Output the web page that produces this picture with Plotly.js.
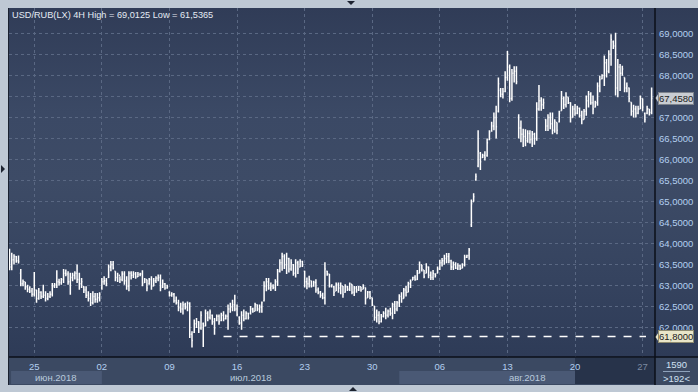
<!DOCTYPE html>
<html><head><meta charset="utf-8">
<script src="https://cdn.plot.ly/plotly-3.0.1.min.js"></script>
<style>
html,body{margin:0;padding:0;background:#bec8d4;width:698px;height:392px;overflow:hidden;}
#bgPlot{position:absolute;left:8px;top:8px;width:690px;height:349px;
 background:linear-gradient(to bottom,#303c57 0%,#3b4965 30%,#3d4b66 50%,#35435f 78%,#2e3b57 100%);}
#bgBand{position:absolute;left:8px;top:357px;width:690px;height:28px;background:#3b4962;}
#chart{position:absolute;left:0;top:0;width:698px;height:392px;}
</style></head>
<body>
<div id="bgPlot"></div><div id="bgBand"></div>
<div id="chart"></div>
<script>
// ---- data (USD/RUB 4H bars) ----
const openP = [
63.80,63.45,63.62,63.70,63.60,63.30,63.05,63.10,62.98,62.92,
62.88,62.80,62.90,62.70,62.85,62.75,62.78,62.70,62.75,62.80,
63.00,63.02,63.10,63.08,63.15,63.30,63.28,63.10,63.20,63.25,
63.30,63.15,63.05,62.98,62.90,62.78,62.70,62.60,62.75,62.68,
62.72,62.95,63.10,63.12,63.20,63.45,63.50,63.35,63.20,63.25,
63.15,63.28,63.12,63.00,63.30,63.25,63.28,63.22,63.27,63.28,
63.08,63.15,63.05,63.15,63.00,63.12,63.18,63.20,62.98,63.05,
62.95,62.85,62.78,62.80,62.65,62.60,62.48,62.45,62.55,62.50,
62.58,61.85,61.90,62.10,62.15,62.00,62.10,62.05,62.35,62.25,
62.30,62.15,62.18,62.28,62.18,62.30,62.22,62.28,62.45,62.50,
62.55,62.45,62.25,62.12,62.30,62.22,62.35,62.35,62.45,62.40,
62.55,62.45,62.50,62.65,63.00,63.10,62.95,63.00,62.96,63.10,
63.35,63.55,63.70,63.50,63.65,63.40,63.50,63.30,63.55,63.45,
63.58,63.35,63.10,63.05,63.12,63.00,63.08,62.90,62.85,62.78,
62.72,63.35,63.28,63.00,62.98,62.88,63.02,62.95,63.00,62.85,
62.98,62.92,63.04,62.85,62.95,62.90,62.98,62.92,62.96,62.72,
62.85,62.72,62.52,62.25,62.30,62.15,62.28,62.35,62.30,62.40,
62.35,62.55,62.45,62.60,62.75,62.70,62.90,62.85,63.05,63.14,
63.20,63.15,63.30,63.50,63.38,63.30,63.45,63.25,63.20,63.28,
63.30,63.40,63.55,63.60,63.65,63.70,63.60,63.45,63.50,63.42,
63.48,63.42,63.50,63.68,63.72,64.45,65.00,65.52,65.85,66.15,
66.05,66.10,66.10,66.48,66.68,66.80,67.00,67.15,67.65,67.55,
67.62,67.95,68.20,67.45,68.05,68.10,67.00,66.75,66.60,66.55,
66.45,66.62,66.48,66.60,66.50,67.20,67.40,67.30,66.95,66.80,
67.00,66.85,66.70,66.88,66.90,67.16,67.45,67.30,67.48,67.35,
67.00,67.20,67.10,67.22,67.05,66.95,67.15,67.40,67.55,67.35,
67.25,67.35,67.75,67.92,68.00,68.30,68.10,68.50,68.80,68.70,
67.70,68.20,68.05,67.95,67.70,67.70,67.36,67.15,67.20,67.10,
67.20,67.45,67.10,67.10,67.20,67.12];
const highP = [
63.88,63.79,63.75,63.71,63.72,63.40,63.15,63.09,63.03,62.99,
62.95,63.33,62.91,62.95,62.87,63.03,62.87,62.83,62.87,63.07,
63.07,63.37,63.17,63.19,63.40,63.39,63.35,63.31,63.31,63.35,
63.51,63.31,63.19,62.99,62.99,62.87,62.83,62.87,62.83,62.83,
62.85,63.19,63.23,63.19,63.51,63.59,63.59,63.35,63.31,63.23,
63.35,63.35,63.23,63.35,63.35,63.35,63.33,63.33,63.31,63.37,
63.19,63.15,63.19,63.23,63.19,63.23,63.27,63.27,63.15,63.07,
63.03,62.87,62.85,62.83,62.75,62.67,62.60,62.63,62.60,62.63,
62.61,61.92,62.20,62.24,62.16,62.40,62.13,62.44,62.40,62.44,
62.32,62.24,62.32,62.32,62.36,62.40,62.32,62.56,62.60,62.67,
62.79,62.56,62.28,62.40,62.44,62.40,62.36,62.52,62.48,62.60,
62.56,62.56,62.63,63.11,63.19,63.19,63.08,63.04,63.16,63.40,
63.63,63.79,63.75,63.79,63.67,63.63,63.52,63.63,63.60,63.63,
63.60,63.36,63.20,63.24,63.12,63.12,63.16,62.96,62.88,62.84,
63.56,63.36,63.28,63.04,63.00,63.08,63.08,63.08,63.00,63.04,
63.00,63.08,63.04,63.00,63.00,63.00,62.98,63.04,62.96,62.88,
62.88,62.72,62.52,62.44,62.40,62.33,62.40,62.48,62.44,62.48,
62.60,62.64,62.64,62.80,62.85,62.95,63.00,63.10,63.15,63.22,
63.25,63.38,63.58,63.50,63.38,63.54,63.46,63.34,63.38,63.30,
63.46,63.62,63.66,63.74,63.78,63.78,63.62,63.58,63.56,63.54,
63.50,63.54,63.74,63.74,63.90,65.05,65.20,65.67,66.70,66.18,
66.14,66.20,66.50,66.70,66.90,67.12,67.28,67.95,67.70,67.70,
68.10,68.58,68.26,68.15,68.22,68.22,67.08,66.93,66.73,66.72,
66.70,66.70,66.68,66.64,67.36,67.77,67.48,67.45,66.96,67.08,
67.12,67.12,66.96,66.88,67.16,67.63,67.50,67.60,67.48,67.36,
67.28,67.32,67.28,67.24,67.16,67.20,67.52,67.63,67.60,67.52,
67.40,67.83,67.99,68.03,68.47,68.39,68.60,68.98,68.83,69.0125,
68.39,68.27,68.23,67.95,67.83,67.71,67.36,67.30,67.28,67.28,
67.52,67.45,67.12,67.28,67.20,67.71];
const lowP = [
63.37,63.37,63.51,63.55,63.53,62.99,62.99,62.91,62.85,62.83,
62.74,62.75,62.60,62.67,62.69,62.71,62.63,62.66,62.71,62.75,
62.95,62.95,63.01,63.03,63.07,63.23,63.03,62.79,63.11,63.15,
63.07,62.91,62.95,62.83,62.71,62.63,62.52,62.56,62.60,62.60,
62.63,62.91,63.03,62.99,63.19,63.35,63.39,63.11,63.09,63.07,
63.11,63.03,62.91,62.87,63.15,63.19,63.17,63.21,63.23,62.99,
63.07,62.87,63.03,62.91,62.99,63.07,63.11,62.87,62.95,62.91,
62.93,62.75,62.74,62.60,62.56,62.40,62.36,62.32,62.44,62.40,
61.76,61.5365,61.88,62.00,61.88,61.96,61.55,62.04,62.16,62.20,
62.08,61.84,62.16,62.08,62.16,62.16,62.20,61.96,62.36,62.40,
62.40,62.28,62.08,61.96,62.16,62.20,62.20,62.32,62.36,62.40,
62.40,62.36,62.36,62.63,62.87,62.91,62.88,62.92,62.88,63.00,
63.32,63.36,63.40,63.28,63.32,63.36,63.24,63.20,63.28,63.44,
63.45,62.96,62.92,62.96,62.96,62.98,62.84,62.80,62.72,62.68,
62.56,63.24,62.96,62.96,62.76,62.88,62.84,62.80,62.72,62.84,
62.88,62.88,62.80,62.76,62.84,62.88,62.86,62.92,62.56,62.72,
62.68,62.52,62.17,62.13,62.09,62.13,62.25,62.21,62.25,62.29,
62.21,62.33,62.40,62.50,62.60,62.70,62.75,62.85,62.95,63.14,
63.12,63.14,63.30,63.34,63.18,63.30,63.18,63.14,63.14,63.20,
63.30,63.38,63.46,63.50,63.54,63.54,63.38,63.38,63.40,63.38,
63.38,63.42,63.46,63.66,63.62,64.40,65.00,65.50,65.82,65.75,
66.04,65.98,66.07,66.46,66.66,66.70,66.50,67.12,67.48,67.45,
67.60,67.87,67.36,67.40,67.83,67.79,66.50,66.41,66.30,66.32,
66.40,66.38,66.30,66.35,66.45,67.16,67.16,67.20,66.68,66.68,
66.72,66.60,66.64,66.60,66.88,67.16,67.20,67.24,67.32,66.88,
67.00,67.04,67.08,67.00,66.84,66.95,67.04,67.24,67.30,67.08,
67.24,67.28,67.60,67.91,67.75,67.95,68.05,68.23,68.63,67.52,
67.48,67.63,67.99,67.60,67.60,67.36,67.04,67.00,67.00,67.08,
67.20,67.15,66.88,67.08,67.05,67.08];
const closeP = [
63.45,63.62,63.70,63.60,63.58,63.05,63.10,62.98,62.92,62.88,
62.80,62.90,62.70,62.85,62.75,62.78,62.70,62.75,62.80,63.00,
63.02,63.10,63.08,63.15,63.30,63.28,63.10,63.20,63.25,63.30,
63.15,63.05,63.10,62.90,62.78,62.70,62.60,62.75,62.68,62.72,
62.80,63.10,63.12,63.05,63.45,63.50,63.42,63.20,63.25,63.15,
63.28,63.12,63.00,63.30,63.25,63.28,63.22,63.27,63.28,63.05,
63.15,62.95,63.15,63.00,63.12,63.18,63.20,62.95,63.05,62.95,
62.98,62.78,62.80,62.65,62.60,62.48,62.45,62.55,62.50,62.58,
61.85,61.70,62.10,62.15,62.00,62.30,62.05,62.35,62.25,62.38,
62.15,62.00,62.28,62.15,62.30,62.22,62.28,62.45,62.50,62.55,
62.45,62.32,62.12,62.30,62.22,62.35,62.25,62.45,62.40,62.55,
62.45,62.50,62.60,63.00,63.10,62.95,63.00,62.96,63.10,63.35,
63.55,63.70,63.50,63.65,63.40,63.55,63.30,63.55,63.40,63.58,
63.50,63.10,63.05,63.15,63.00,63.08,62.90,62.85,62.78,62.72,
63.40,63.28,63.00,63.02,62.85,63.02,62.95,63.00,62.80,62.98,
62.92,63.05,62.85,62.95,62.90,62.98,62.90,63.00,62.70,62.85,
62.75,62.55,62.25,62.30,62.15,62.28,62.35,62.30,62.40,62.35,
62.55,62.45,62.60,62.75,62.70,62.90,62.85,63.05,63.10,63.20,
63.15,63.30,63.50,63.40,63.22,63.45,63.25,63.20,63.30,63.25,
63.40,63.55,63.60,63.65,63.70,63.60,63.45,63.50,63.42,63.48,
63.42,63.50,63.68,63.72,63.85,64.95,65.12,65.60,66.20,65.95,
66.10,66.05,66.40,66.65,66.80,67.00,66.78,67.80,67.55,67.62,
67.95,68.50,67.45,68.05,68.10,67.85,66.75,66.60,66.55,66.45,
66.62,66.48,66.60,66.50,67.20,67.40,67.30,67.35,66.80,67.00,
66.85,66.70,66.90,66.70,67.10,67.45,67.30,67.50,67.35,67.00,
67.20,67.10,67.22,67.05,66.95,67.15,67.40,67.55,67.35,67.20,
67.35,67.75,67.90,68.00,68.30,68.10,68.50,68.85,68.70,67.70,
68.20,68.05,68.15,67.70,67.75,67.45,67.15,67.20,67.10,67.20,
67.45,67.25,66.95,67.20,67.12,67.458];

const weekTickIdx    = [11, 41, 71, 101, 131, 161, 191, 221, 251, 281];
const weekTickLabels = ['25','02','09','16','23','30','06','13','20','27'];
const priceTicks     = [62, 62.5, 63, 63.5, 64, 64.5, 65, 65.5, 66, 66.5, 67, 67.5, 68, 68.5, 69];
const hiddenPriceTicks = [67.5];   // covered by the last-price box in the reference
const monthLabels    = ['июн.2018', 'июл.2018', 'авг.2018'];
const monthStartIdx  = [-0.22, 41, 173];
const lastPrice      = 67.458;
const supportLevel   = 61.8;
const supportFromIdx = 95;
const titleText      = 'USD/RUB(LX) 4H High = 69,0125 Low = 61,5365';
const barsTotal      = '1590';
const barsVisible    = '>192<';

// ---- geometry ----
const W = 698, H = 392;
const L = 9, R = 655, T = 8, B = 357;
const pw = R - L, ph = B - T;
const xr = [-0.22, 286.5], yr = [61.311, 69.601];
const px = v => (v - L) / pw;        // pixel -> paper x
const py = v => (B - v) / ph;        // pixel -> paper y
const fmt = v => v.toFixed(4).replace('.', ',');
const xIdx = openP.map((_, i) => i);

const font = 'Liberation Sans, Arial, sans-serif';
const labelCol = '#b3cff0';

const trace = {
  type: 'ohlc', x: xIdx, open: openP, high: highP, low: lowP, close: closeP,
  increasing: {line: {color: '#ffffff', width: 1.5}},
  decreasing: {line: {color: '#ffffff', width: 1.5}},
  tickwidth: 0.4, hoverinfo: 'skip'
};

const ticktextX = weekTickLabels.map((t, i) =>
  i === weekTickLabels.length - 1 ? '<span style="color:#7c8aa2">' + t + '</span>' : t);
const ticktextY = priceTicks.map(v => hiddenPriceTicks.includes(v) ? '' : fmt(v));

const monthEnd = monthStartIdx.slice(1).concat([xr[1]]);
const annotations = [
  {text: titleText, xref: 'paper', yref: 'paper', x: px(10), y: py(15), xanchor: 'left', yanchor: 'middle',
   showarrow: false, font: {family: font, size: 9.2, color: '#e4ebf4'}},
  {text: barsTotal, xref: 'paper', yref: 'paper', x: px(676), y: py(364), xanchor: 'center', yanchor: 'middle',
   showarrow: false, font: {family: font, size: 9.5, color: '#cfe0f2'}},
  {text: barsVisible, xref: 'paper', yref: 'paper', x: px(676), y: py(378.5), xanchor: 'center', yanchor: 'middle',
   showarrow: false, font: {family: font, size: 9.5, color: '#cfe0f2'}},
  {text: fmt(lastPrice), xref: 'paper', yref: 'y', x: px(658), y: lastPrice, xanchor: 'left', yanchor: 'middle',
   showarrow: false, bgcolor: '#c9cdd3', bordercolor: '#7d838c', borderwidth: 1, borderpad: 0,
   font: {family: font, size: 9.5, color: '#1b1b1b'}},
  {text: fmt(supportLevel), xref: 'paper', yref: 'y', x: px(658), y: supportLevel, xanchor: 'left', yanchor: 'middle',
   showarrow: false, bgcolor: '#e9e6c9', bordercolor: '#8d8a70', borderwidth: 1, borderpad: 0,
   font: {family: font, size: 9.5, color: '#1b1b1b'}}
];
monthLabels.forEach((m, k) => {
  annotations.push({text: m, xref: 'x', yref: 'paper', x: (monthStartIdx[k] + monthEnd[k]) / 2, y: py(377.5),
    xanchor: 'center', yanchor: 'middle', showarrow: false, font: {family: font, size: 9.5, color: '#b9c9dc'}});
});

const shapes = [
  {type: 'rect', xref: 'x', yref: 'paper', x0: 0.7, x1: monthStartIdx[1], y0: py(371), y1: py(384),
   fillcolor: '#4a5975', line: {width: 0}, layer: 'below'},
  {type: 'rect', xref: 'x', yref: 'paper', x0: monthStartIdx[2], x1: weekTickIdx[8], y0: py(371), y1: py(384),
   fillcolor: '#4a5975', line: {width: 0}, layer: 'below'},
  {type: 'rect', xref: 'x', yref: 'paper', x0: weekTickIdx[8], x1: xr[1], y0: py(358), y1: py(384),
   fillcolor: '#27334a', line: {width: 0}, layer: 'below'},
  {type: 'line', xref: 'paper', yref: 'paper', x0: px(8), x1: px(698), y0: 0, y1: 0, line: {color: '#0b0f18', width: 1.5}},
  {type: 'line', xref: 'paper', yref: 'paper', x0: 1, x1: 1, y0: py(385), y1: py(8), line: {color: '#0b0f18', width: 1.5}},
  {type: 'line', xref: 'paper', yref: 'paper', x0: px(8.5), x1: px(8.5), y0: py(385), y1: py(8), line: {color: '#1a2130', width: 1}},
  {type: 'line', xref: 'paper', yref: 'paper', x0: px(663), x1: px(690), y0: py(371.5), y1: py(371.5), line: {color: '#8ea2bb', width: 1}},
  {type: 'line', xref: 'x', yref: 'y', x0: supportFromIdx, x1: 282.5, y0: supportLevel, y1: supportLevel,
   line: {color: '#ffffff', width: 1.5, dash: '8px,8px'}},
  {type: 'path', xref: 'paper', yref: 'paper',
   path: 'M' + px(655.5) + ',' + py(98.1) + ' L' + px(658.5) + ',' + py(93.5) + ' L' + px(658.5) + ',' + py(102.7) + ' Z',
   fillcolor: '#c9cdd3', line: {width: 0}},
  {type: 'path', xref: 'paper', yref: 'paper',
   path: 'M' + px(655.5) + ',' + py(337) + ' L' + px(658.5) + ',' + py(332.4) + ' L' + px(658.5) + ',' + py(341.6) + ' Z',
   fillcolor: '#e9e6c9', line: {width: 0}},
  {type: 'path', xref: 'paper', yref: 'paper',
   path: 'M' + px(347) + ',' + py(1) + ' L' + px(355) + ',' + py(1) + ' L' + px(351) + ',' + py(5) + ' Z',
   fillcolor: '#1d2330', line: {width: 0}},
  {type: 'path', xref: 'paper', yref: 'paper',
   path: 'M' + px(349) + ',' + py(391) + ' L' + px(357) + ',' + py(391) + ' L' + px(353) + ',' + py(387) + ' Z',
   fillcolor: '#1d2330', line: {width: 0}},
  {type: 'path', xref: 'paper', yref: 'paper',
   path: 'M' + px(1) + ',' + py(165) + ' L' + px(1) + ',' + py(173) + ' L' + px(5) + ',' + py(169) + ' Z',
   fillcolor: '#1d2330', line: {width: 0}}
];

const layout = {
  width: W, height: H,
  margin: {l: L, r: W - R, t: T, b: H - B, pad: 0},
  paper_bgcolor: 'rgba(0,0,0,0)', plot_bgcolor: 'rgba(0,0,0,0)',
  showlegend: false, dragmode: false,
  xaxis: {range: xr, tickvals: weekTickIdx, ticktext: ticktextX, ticks: '', showline: false, zeroline: false,
    showgrid: true, gridcolor: '#5a6883', griddash: '3px,3px', gridwidth: 1,
    tickfont: {family: font, size: 9.5, color: labelCol}, ticklabelstandoff: 2,
    rangeslider: {visible: false}, fixedrange: true},
  yaxis: {range: yr, side: 'right', tickvals: priceTicks, ticktext: ticktextY, ticks: '',
    showline: false, zeroline: false, showgrid: true, gridcolor: '#5a6883', griddash: '3px,3px', gridwidth: 1,
    tickfont: {family: font, size: 9.5, color: labelCol}, ticklabelstandoff: 3, fixedrange: true},
  shapes: shapes, annotations: annotations
};

Plotly.newPlot('chart', [trace], layout, {displayModeBar: false, staticPlot: true});
</script>
</body></html>
